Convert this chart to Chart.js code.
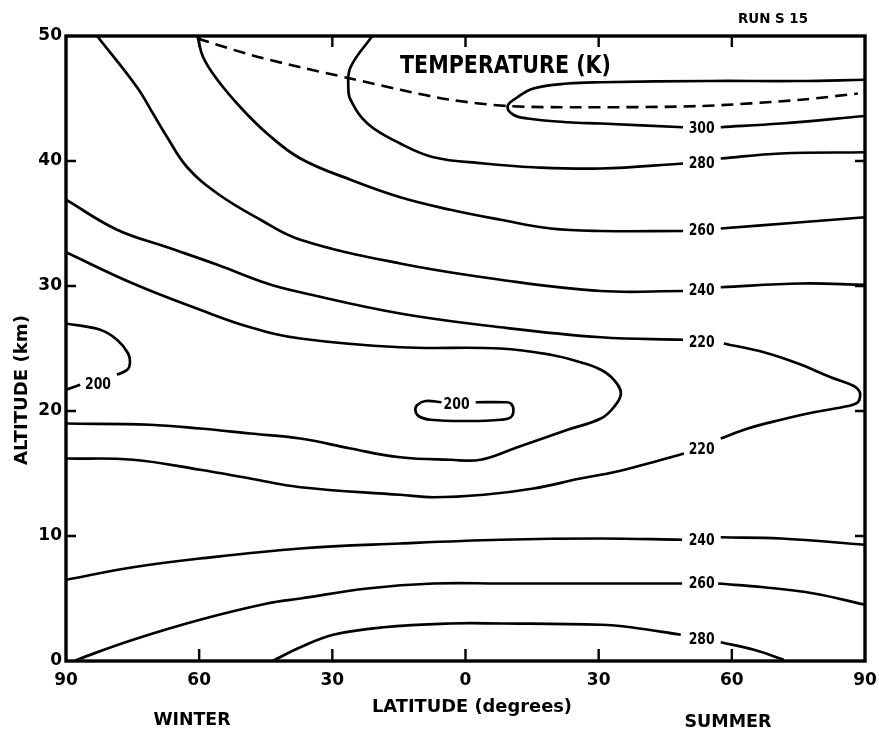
<!DOCTYPE html>
<html>
<head>
<meta charset="utf-8">
<script src="https://cdn.jsdelivr.net/npm/chart.js@4.4.0/dist/chart.umd.min.js"></script>
<style>
html,body{margin:0;padding:0;background:#fff;}
#wrap{width:879px;height:729px;position:relative;}
</style>
</head>
<body>
<div id="wrap"><canvas id="c" width="879" height="729"></canvas></div>
<script>
// ---- Data: isotherms as [latitude, altitude km]; winter latitudes negative, summer positive.
// null separates pieces of a line (gaps left for the contour labels).
const xTicks = [-90, -60, -30, 0, 30, 60, 90];
const yTicks = [0, 10, 20, 30, 40, 50];

const iso300 = [[90,46.5],[75,46.4],[55,46.4],[30.5,46.3],[23,46.2],[15.3,45.8],[11.7,45.1],[9.5,44.4],[10.8,43.7],[14,43.4],[23,43.1],[30.5,43.0],[49,42.7],null,[57.5,42.7],[71,43.0],[90,43.6]];
const iso280Upper = [[-21,50],[-25.9,47.5],[-26.4,45.9],[-25.9,44.9],[-22.1,43.0],[-14.7,41.4],[-7.2,40.3],[4.1,39.8],[15.3,39.5],[30.5,39.4],[49,39.8],null,[57.5,40.2],[71,40.6],[90,40.7]];
const iso260Upper = [[-60.4,50],[-59.1,48.3],[-55.9,46.5],[-50.7,44.3],[-44.7,42.2],[-37.2,40.2],[-25.9,38.5],[-14.7,37.1],[-3.4,36.1],[7.9,35.3],[19.2,34.6],[30.5,34.4],[49,34.4],null,[57.5,34.6],[75.6,35.1],[90,35.5]];
const iso240Upper = [[-83,50],[-74,45.9],[-70.4,43.8],[-67.2,41.9],[-62.7,39.5],[-55.9,37.4],[-46.2,35.3],[-37.2,33.7],[-14.7,31.8],[7.9,30.5],[30.5,29.6],[49,29.6],null,[57.5,29.9],[75.6,30.2],[90,30.1]];
const iso220 = [[-90,36.9],[-78.5,34.5],[-67.2,33.1],[-55.9,31.7],[-44.7,30.2],[-37.2,29.5],[-14.7,27.8],[7.9,26.7],[30.5,25.9],[49,25.7],null,
  [58.2,25.4],[67.2,24.7],[74.9,23.8],[82.3,22.7],[87.5,22.0],[88.7,21.6],[88.9,21.2],[88.4,20.7],[86.2,20.4],[78.5,19.9],[71.1,19.3],[63.6,18.6],[57.5,17.8],null,
  [49.2,16.6],[41.1,15.8],[33.4,15.1],[25.9,14.6],[15.3,13.8],[4.1,13.3],[-7.2,13.1],[-14.7,13.3],[-37.2,13.9],[-48.5,14.6],[-59.8,15.3],[-74.9,16.1],[-90,16.2]];
const iso210 = [[-90,32.7],[-74.9,30.2],[-59.8,28.1],[-48.5,26.7],[-37.2,25.8],[-14.7,25.1],[7.9,25.0],[19.2,24.5],[25.9,23.9],[30.5,23.3],[33.4,22.5],[35.0,21.4],[33.4,20.3],[30.5,19.4],[23.0,18.5],[11.7,17.1],[3.4,16.1],[-3.4,16.1],[-14.7,16.3],[-25.9,17.0],[-37.2,17.8],[-48.5,18.2],[-59.8,18.6],[-71.1,18.9],[-90,19.0]];
const iso200West = [[-90,27.0],[-82.3,26.5],[-78.5,25.7],[-76.0,24.6],[-75.6,23.8],[-76.2,23.3],[-78.5,22.9],null,[-86.8,22.1],[-90,21.7]];
const iso200Equator = [[2.3,20.7],[9.0,20.7],[10.2,20.6],[10.8,20.1],[10.2,19.5],[7.9,19.3],[1.1,19.2],[-7.9,19.3],[-10.6,19.6],[-11.3,20.1],[-10.8,20.5],[-9.0,20.8],[-5.4,20.7]];
const iso240Lower = [[-90,6.5],[-74.9,7.5],[-59.8,8.2],[-37.2,9.0],[-14.7,9.4],[7.9,9.7],[30.5,9.8],[48.8,9.7],null,[57.5,9.9],[71.1,9.8],[90,9.3]];
const iso260Lower = [[-88,0],[-86.8,0.2],[-74.9,1.7],[-59.8,3.3],[-44.7,4.6],[-37.2,5.0],[-22.1,5.8],[-7.2,6.2],[7.9,6.2],[30.5,6.2],[48.8,6.2],null,[56.9,6.2],[67.2,5.9],[78.5,5.4],[90,4.5]];
const iso280Lower = [[-43.5,0],[-42.4,0.2],[-37.2,1.1],[-29.8,2.1],[-18.5,2.7],[-3.4,3.0],[7.9,3.0],[30.5,2.9],[37.2,2.7],[48.5,2.1],null,[57.5,1.5],[65,0.9],[71.7,0.1]];
const stratopause = [[-60.4,49.8],[-48.5,48.5],[-37.2,47.5],[-25.9,46.6],[-14.7,45.7],[-3.4,44.9],[9.5,44.4],[25.9,44.3],[53,44.4],[75.6,44.9],[88.4,45.4]];

// contour label texts and their [lat, alt] positions
const labelTexts = ['300','280','260','240','220','220','240','260','280','200','200'];
const labelLat   = [53.2, 53.2, 53.2, 53.2, 53.2, 53.2, 53.2, 53.2, 53.2, -82.8, -2.0];
const labelAlt   = [42.7, 39.9, 34.5, 29.7, 25.6, 17.0, 9.7, 6.3, 1.8, 22.2, 20.6];

// ---- Build datasets
const solidLines = [iso300, iso280Upper, iso260Upper, iso240Upper, iso220, iso210, iso200West, iso200Equator, iso240Lower, iso260Lower, iso280Lower];
function split(arr){
  const out=[]; let cur=[];
  arr.forEach(p=>{ if(p===null){ if(cur.length) out.push(cur); cur=[]; } else cur.push({x:p[0],y:p[1]}); });
  if(cur.length) out.push(cur);
  return out;
}
const datasets=[];
solidLines.forEach(line=>{
  split(line).forEach(seg=>{
    datasets.push({data:seg, showLine:true, borderColor:'#000', borderWidth:2.7, pointRadius:0, tension:0.4, fill:false});
  });
});
datasets.push({data:split(stratopause)[0], showLine:true, borderColor:'#000', borderWidth:2.6, borderDash:[12,7], pointRadius:0, tension:0.3, fill:false});

const FONT = "'DejaVu Sans', sans-serif";

function fitText(ctx, text, x, y, font, width, rot){
  ctx.save();
  ctx.font = font;
  const w = ctx.measureText(text).width;
  ctx.translate(x, y);
  if (rot) ctx.rotate(rot);
  if (width) ctx.scale(width / w, 1);
  ctx.textAlign = 'center';
  ctx.textBaseline = 'alphabetic';
  ctx.fillStyle = '#000';
  ctx.fillText(text, 0, 0);
  ctx.restore();
}

const decor = {
  id:'decor',
  afterDatasetsDraw(chart){
    const ctx = chart.ctx, a = chart.chartArea, xs = chart.scales.x, ys = chart.scales.y;
    ctx.save();
    ctx.strokeStyle = '#000';
    ctx.lineWidth = 3.4;
    ctx.strokeRect(a.left, a.top, a.right - a.left, a.bottom - a.top);
    ctx.lineWidth = 2.4;
    ctx.beginPath();
    xs.ticks.forEach(t=>{
      if (t.value <= -90 || t.value >= 90) return;
      const px = xs.getPixelForValue(t.value);
      ctx.moveTo(px, a.bottom); ctx.lineTo(px, a.bottom - 12);
      ctx.moveTo(px, a.top); ctx.lineTo(px, a.top + 11);
    });
    ys.ticks.forEach(t=>{
      if (t.value <= 0 || t.value >= 50) return;
      const py = ys.getPixelForValue(t.value);
      ctx.moveTo(a.left, py); ctx.lineTo(a.left + 10, py);
      ctx.moveTo(a.right, py); ctx.lineTo(a.right - 10, py);
    });
    ctx.stroke();
    ctx.restore();

    // contour labels
    labelTexts.forEach((t,i)=>{
      const px = xs.getPixelForValue(labelLat[i]);
      const py = ys.getPixelForValue(labelAlt[i]);
      fitText(ctx, t, px, py + 5.5, 'bold 15px ' + FONT, 26);
    });

    // titles
    fitText(ctx, 'TEMPERATURE (K)', 505.5, 73, 'bold 24px ' + FONT, 211);
    fitText(ctx, 'RUN S 15', 773, 23, 'bold 14px ' + FONT, 70);
    fitText(ctx, 'LATITUDE (degrees)', 472, 712, 'bold 17px ' + FONT, 200);
    fitText(ctx, 'WINTER', 192, 725, 'bold 17px ' + FONT, 77);
    fitText(ctx, 'SUMMER', 728, 727, 'bold 17px ' + FONT, 87);
    fitText(ctx, 'ALTITUDE (km)', 27, 390, 'bold 17px ' + FONT, 150, -Math.PI/2);
  }
};

new Chart(document.getElementById('c'), {
  type:'scatter',
  data:{datasets},
  options:{
    responsive:false,
    devicePixelRatio:1,
    animation:false,
    layout:{padding:{top:36, right:14, left:0, bottom:0}},
    plugins:{legend:{display:false}, tooltip:{enabled:false}},
    scales:{
      x:{
        type:'linear', min:-90, max:90,
        afterBuildTicks: s => { s.ticks = xTicks.map(v=>({value:v})); },
        ticks:{callback:v=>String(Math.abs(v)), font:{family:FONT, size:17, weight:'bold'}, color:'#000', padding:9, maxRotation:0, autoSkip:false},
        grid:{display:false, drawTicks:false},
        border:{display:false},
        afterFit: s => { s.height = 68; s.paddingLeft = 0; s.paddingRight = 0; }
      },
      y:{
        type:'linear', min:0, max:50,
        afterBuildTicks: s => { s.ticks = yTicks.map(v=>({value:v})); },
        ticks:{font:{family:FONT, size:17, weight:'bold'}, color:'#000', padding:4, autoSkip:false},
        grid:{display:false, drawTicks:false},
        border:{display:false},
        afterFit: s => { s.width = 66; s.paddingTop = 0; s.paddingBottom = 0; }
      }
    }
  },
  plugins:[decor]
});
</script>
</body>
</html>
